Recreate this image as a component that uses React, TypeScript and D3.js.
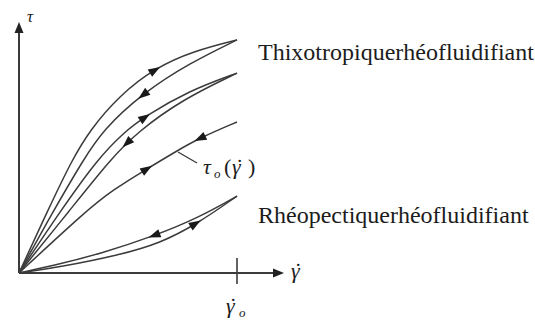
import React, { useEffect, useRef } from "react";
import * as d3 from "d3";

// Shear rate (relative to γ̇o) and shear stress samples for each flow curve
const gammaThixoUp = [0, 0.133, 0.243, 0.326, 0.46, 0.624, 0.8, 1];
const tauThixoUp = [0, 0.254, 0.456, 0.577, 0.715, 0.827, 0.895, 0.94];
const gammaThixoDown = [0, 0.16, 0.295, 0.385, 0.569, 0.78, 1];
const tauThixoDown = [0, 0.254, 0.456, 0.577, 0.726, 0.845, 0.94];

const gammaMidUp = [0, 0.193, 0.358, 0.472, 0.578, 0.78, 1];
const tauMidUp = [0, 0.254, 0.456, 0.56, 0.632, 0.735, 0.806];
const gammaMidDown = [0, 0.234, 0.417, 0.541, 0.75, 1];
const tauMidDown = [0, 0.254, 0.456, 0.567, 0.7, 0.806];

const gammaEquilibrium = [0, 0.312, 0.431, 0.578, 0.729, 0.83, 1];
const tauEquilibrium = [0, 0.254, 0.335, 0.415, 0.495, 0.545, 0.609];

const gammaRheoUpper = [0, 0.188, 0.372, 0.624, 0.83, 1];
const tauRheoUpper = [0, 0.036, 0.078, 0.15, 0.226, 0.31];
const gammaRheoLower = [0, 0.188, 0.463, 0.647, 0.817, 1];
const tauRheoLower = [0, 0.024, 0.073, 0.12, 0.198, 0.31];

// Direction markers: position along γ̇ and sense of travel (+1 loading, -1 unloading)
const curves = [
  { g: gammaThixoUp, t: tauThixoUp, arrows: [[0.624, 1]] },
  { g: gammaThixoDown, t: tauThixoDown, arrows: [[0.569, -1]] },
  { g: gammaMidUp, t: tauMidUp, arrows: [[0.578, 1]] },
  { g: gammaMidDown, t: tauMidDown, arrows: [[0.495, -1]] },
  { g: gammaEquilibrium, t: tauEquilibrium, arrows: [[0.83, -1], [0.587, 1]] },
  { g: gammaRheoUpper, t: tauRheoUpper, arrows: [[0.62, -1]] },
  { g: gammaRheoLower, t: tauRheoLower, arrows: [[0.81, 1]] },
];

const labelThixo = "Thixotropiquerhéofluidifiant";
const labelRheo = "Rhéopectiquerhéofluidifiant";

const W = 535;
const H = 320;
const INK = "#3b3b3b";
const SERIF = "'Liberation Serif', 'DejaVu Serif', serif";

export default function App() {
  const ref = useRef<SVGSVGElement | null>(null);

  useEffect(() => {
    const svg = d3.select(ref.current);
    svg.selectAll("*").remove();

    const x = d3.scaleLinear().domain([0, 1]).range([19, 237]);
    const y = d3.scaleLinear().domain([0, 1]).range([273, 25]);
    const x0 = x(0);
    const y0 = y(0);

    // axes
    const ax = svg.append("g");
    ax.append("line")
      .attr("x1", x0).attr("y1", y0).attr("x2", x0).attr("y2", 32)
      .attr("stroke", INK).attr("stroke-width", 2);
    ax.append("path")
      .attr("d", `M${x0},22 L${x0 - 4.5},33 L${x0 + 4.5},33 Z`)
      .attr("fill", "#222");
    ax.append("line")
      .attr("x1", x0).attr("y1", y0).attr("x2", 275).attr("y2", y0)
      .attr("stroke", INK).attr("stroke-width", 2);
    ax.append("path")
      .attr("d", `M284,${y0} L273,${y0 - 4.5} L273,${y0 + 4.5} Z`)
      .attr("fill", "#222");
    ax.append("line")
      .attr("x1", x(1)).attr("y1", 258).attr("x2", x(1)).attr("y2", 284)
      .attr("stroke", INK).attr("stroke-width", 1.6);

    const gen = d3.line<[number, number]>().curve(d3.curveBasis);

    curves.forEach((c) => {
      const pts = c.g.map((g, i) => [x(g), y(c.t[i])] as [number, number]);
      const path = svg
        .append("path")
        .attr("d", gen(pts) as string)
        .attr("fill", "none")
        .attr("stroke", INK)
        .attr("stroke-width", 1.5);
      const node = path.node() as SVGPathElement;
      const L = node.getTotalLength();
      c.arrows.forEach(([g, dir]) => {
        const tx = x(g);
        let lo = 0;
        let hi = L;
        for (let k = 0; k < 40; k++) {
          const mid = (lo + hi) / 2;
          if (node.getPointAtLength(mid).x < tx) lo = mid;
          else hi = mid;
        }
        const s = (lo + hi) / 2;
        const p = node.getPointAtLength(s);
        const a = node.getPointAtLength(Math.max(0, s - 2));
        const b = node.getPointAtLength(Math.min(L, s + 2));
        let ang = (Math.atan2(b.y - a.y, b.x - a.x) * 180) / Math.PI;
        if (dir < 0) ang += 180;
        svg
          .append("path")
          .attr("d", "M6,0 L-6,-4.3 L-6,4.3 Z")
          .attr("fill", "#1a1a1a")
          .attr("transform", `translate(${p.x},${p.y}) rotate(${ang})`);
      });
    });

    // leader line for the equilibrium curve label
    svg.append("line")
      .attr("x1", 178).attr("y1", 152).attr("x2", 197).attr("y2", 163)
      .attr("stroke", INK).attr("stroke-width", 1.4);

    const newText = (tx: number, ty: number, size: number, italic = false) =>
      svg
        .append("text")
        .attr("x", tx)
        .attr("y", ty)
        .style("font-family", SERIF)
        .style("font-size", `${size}px`)
        .style("font-style", italic ? "italic" : "normal")
        .style("fill", "#1c1c1c");

    // curve family labels
    newText(258, 60, 24).text(labelThixo);
    newText(258, 223, 24).text(labelRheo);

    // axis symbols
    newText(27, 22, 17, true).text("τ");

    const gAxis = newText(291, 278, 22, true);
    gAxis.append("tspan").text("γ");
    gAxis.append("tspan").attr("x", 294.5).style("font-style", "normal").text("˙");

    const gRef = newText(226, 313, 22, true);
    gRef.append("tspan").text("γ");
    gRef.append("tspan").attr("x", 229.5).style("font-style", "normal").text("˙");
    gRef.append("tspan").attr("x", 239).attr("dy", 4).style("font-size", "13px").text("o");

    // τo(γ̇)
    const eq = newText(203, 174, 22, true);
    eq.append("tspan").text("τ");
    eq.append("tspan").attr("x", 214).attr("dy", 4).style("font-size", "13px").text("o");
    eq.append("tspan").attr("x", 224).attr("dy", -4).style("font-style", "normal").text("(");
    eq.append("tspan").attr("x", 232).text("γ");
    eq.append("tspan").attr("x", 236).style("font-style", "normal").text("˙");
    eq.append("tspan").attr("x", 248).style("font-style", "normal").text(")");
  }, []);

  return (
    <svg
      ref={ref}
      width={W}
      height={H}
      style={{ position: "absolute", left: 0, top: 0, background: "#fff" }}
    />
  );
}
